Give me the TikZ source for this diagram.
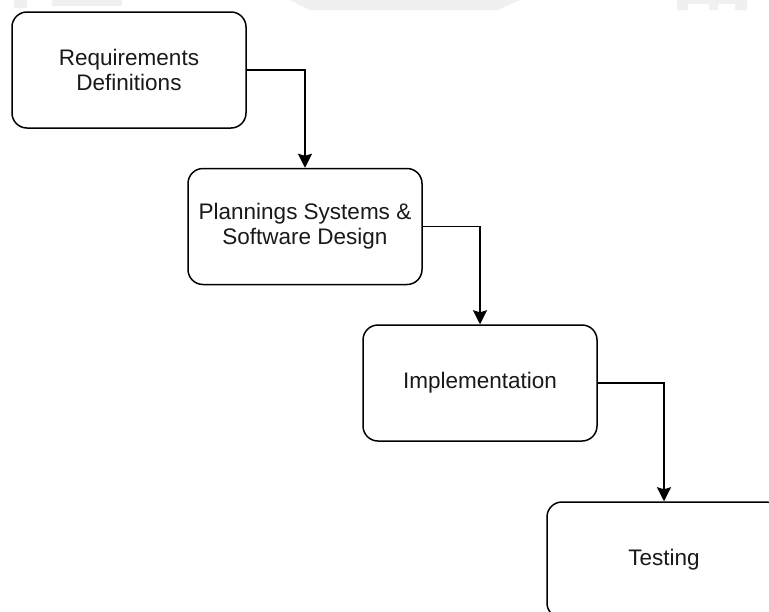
\documentclass[tikz,border=0pt]{standalone}
\usepackage{fontspec}
\setmainfont{Liberation Sans}
\usetikzlibrary{arrows.meta}
\definecolor{wm}{HTML}{F0F0F0}
\tikzset{
  stage/.style={draw=black, line width=1.5pt, rounded corners=15pt, minimum width=234pt, minimum height=116pt, inner sep=0pt, align=center, font=\fontsize{22.5}{25}\selectfont, text=black!90},
  flow/.style={draw=black, line width=1.5pt, -{Stealth[length=14pt,width=14pt,inset=2pt]}},
  wmshape/.style={fill=wm, draw=none}
}
\begin{document}
\begin{tikzpicture}[x=1pt,y=-1pt]
\useasboundingbox (0,0) rectangle (769,611);
\clip (0,0) rectangle (769,611);
\fill[white] (0,0) rectangle (769,611);
% faint watermark remnants at the top
\path[wmshape] (14,0) rectangle (27,8);
\path[wmshape] (52,0) rectangle (122,6);
\path[wmshape] (290,0) -- (520,0) -- (498,10) -- (310,10) -- cycle;
\path[wmshape, even odd rule] (677,0) rectangle (747,10) (688,4) rectangle (709,10) (718,4) rectangle (735,10);
% stages
\node[stage] (req) at (129,70) {Requirements\\Definitions};
\node[stage] (plan) at (305,226.5) {Plannings Systems \&\\Software Design};
\node[stage] (impl) at (480,383) {Implementation};
\node[stage] (test) at (664,560) {Testing};
% connectors
\draw[flow] (req.east) -| (plan.north);
\draw[flow] (plan.east) -| (impl.north);
\draw[flow] (impl.east) -| (test.north);
\end{tikzpicture}
\end{document}
